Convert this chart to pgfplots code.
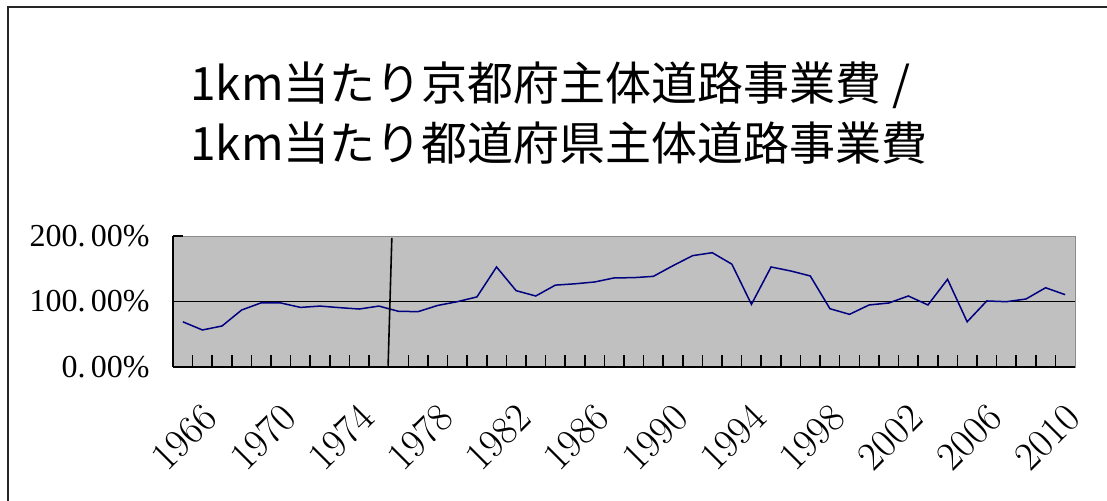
\documentclass[border=0pt]{standalone}
\usepackage{fontspec}
\usepackage{pgfplots}
\pgfplotsset{compat=1.18}
\newfontfamily\cjk{Noto Sans CJK JP}
\newfontfamily\lserif{Liberation Serif}
\definecolor{plotbg}{RGB}{192,192,192}
\definecolor{navyline}{RGB}{0,0,128}
\newcommand\ylab[1]{\textnormal{\lserif\fontsize{16}{16}\selectfont #1}}
\newcommand\xlab[1]{\textnormal{\fontsize{20}{20}\selectfont #1}}
\begin{document}
\begin{tikzpicture}
\path[use as bounding box] (0,0) rectangle (553.5pt,250.5pt);
\draw[line width=1pt, black!85] (4pt,0) -- (4pt,247pt) -- (553.5pt,247pt);
\node[anchor=west, inner sep=0pt, font=\cjk\fontsize{23}{24}\selectfont] at (95pt,208pt) {1km当たり京都府主体道路事業費 /};
\node[anchor=west, inner sep=0pt, font=\cjk\fontsize{23}{24}\selectfont] at (95pt,179pt) {1km当たり都道府県主体道路事業費};
\begin{axis}[
  at={(86.5pt,67pt)}, anchor=south west,
  scale only axis, width=451pt, height=65.5pt,
  xmin=-0.5, xmax=45.5, ymin=0, ymax=200,
  axis background/.style={fill=plotbg, draw=black!45},
  axis x line*=bottom, axis y line*=left,
  axis line style={black, line width=0.8pt},
  tick align=inside,
  tick style={black, line width=0.8pt},
  xtick={0,4,...,44},
  xticklabels={\xlab{1966},\xlab{1970},\xlab{1974},\xlab{1978},\xlab{1982},\xlab{1986},\xlab{1990},\xlab{1994},\xlab{1998},\xlab{2002},\xlab{2006},\xlab{2010}},
  major x tick style={draw=none},
  minor xtick={0.5,1.5,...,44.5},
  minor tick length=6pt,
  xticklabel style={xshift=14pt, yshift=-22pt, rotate=45, anchor=east, inner sep=0pt},
  ytick={0,100,200},
  yticklabels={\ylab{0.\,00\%},\ylab{100.\,00\%},\ylab{200.\,00\%}},
  major tick length=5pt,
  yticklabel style={anchor=east, inner sep=0pt, xshift=-11.5pt},
  clip=false,
]
\addplot[black, line width=0.8pt] coordinates {(-0.5,100) (45.5,100)};
\addplot[navyline, line width=0.75pt] table[x=k, y=v] {
k v
0 69
1 56.5
2 62.6
3 87
4 98
5 97.7
6 91
7 93
8 90.6
9 88.5
10 93
11 85
12 84.5
13 94
14 99.7
15 107
16 152.7
17 116.5
18 108.4
19 125
20 127
21 129.8
22 136
23 136.4
24 138.4
25 154.7
26 170
27 174.5
28 157
29 95.7
30 152.7
31 146.6
32 139
33 89
34 80.4
35 94.7
36 97.7
37 108.4
38 94.7
39 133.9
40 69
41 100.8
42 99.7
43 103.8
44 121
45 110.4
};
\addplot[black, line width=0.8pt] coordinates {(10.66,197) (10.47,2)};
\end{axis}
\end{tikzpicture}
\end{document}
